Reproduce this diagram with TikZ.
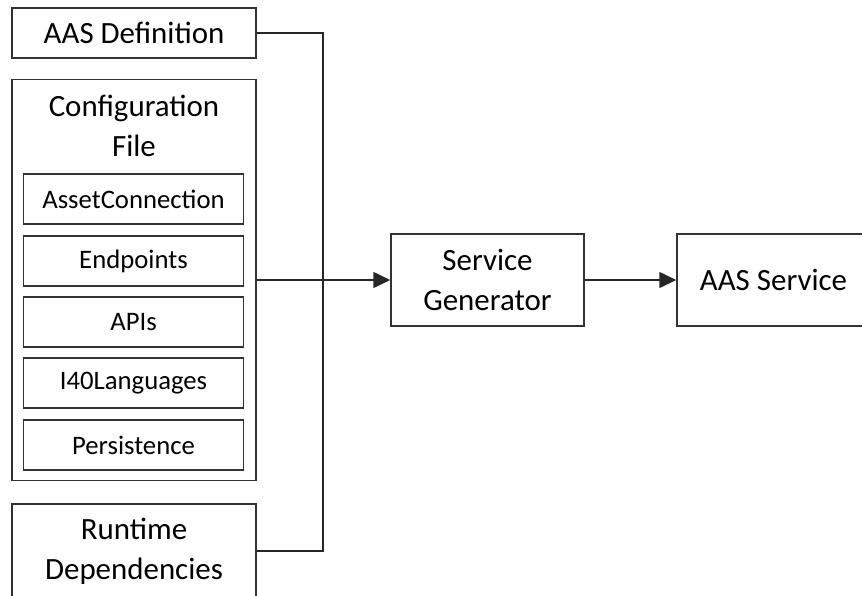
\documentclass[tikz,border=0pt]{standalone}
\usepackage{fontspec}
\setmainfont{Carlito}
\usepackage{tikz}
\usetikzlibrary{arrows.meta}

\tikzset{
  blk/.style={draw=black!80,line width=0.8pt,minimum width=244*0.02cm,font=\fontsize{17.6}{22.8}\selectfont,align=center},
  sub/.style={draw=black!80,line width=0.8pt,minimum width=220*0.02cm,minimum height=50*0.02cm,font=\fontsize{15.2}{18}\selectfont},
  wire/.style={draw=black!85,line width=0.8pt},
  arr/.style={wire,-{Triangle[length=0.34cm,width=0.32cm]}}
}

\begin{document}
\begin{tikzpicture}[x=0.02cm,y=-0.02cm]
\useasboundingbox (0,0) rectangle (862,595);
\clip (0,0) rectangle (862,595);
\node[blk,minimum height=50*0.02cm] (def) at (134,33) {AAS Definition};
\node[blk,minimum height=401*0.02cm] (conf) at (134,280) {};
\node[font=\fontsize{17.6}{22.8}\selectfont,align=center] (conftitle) at (134,126) {Configuration\\File};
\node[sub] (asset) at (133.5,199) {AssetConnection};
\node[sub] (endp) at (133.5,261) {Endpoints};
\node[sub] (apis) at (133.5,322) {APIs};
\node[sub] (lang) at (133.5,383) {I40Languages};
\node[sub] (pers) at (133.5,445) {Persistence};
\node[blk,minimum height=94*0.02cm] (rt) at (134,551) {Runtime\\Dependencies};
\node[blk,minimum width=193*0.02cm,minimum height=92*0.02cm] (gen) at (487.5,280) {Service\\Generator};
\node[blk,minimum width=193*0.02cm,minimum height=92*0.02cm] (aas) at (773.5,280) {AAS Service};
\coordinate (bus) at (323,280);
\draw[wire] (def.east) -| (bus) |- (rt.east);
\draw[arr] (conf.east) -- (gen.west);
\draw[arr] (gen.east) -- (aas.west);
\end{tikzpicture}
\end{document}
